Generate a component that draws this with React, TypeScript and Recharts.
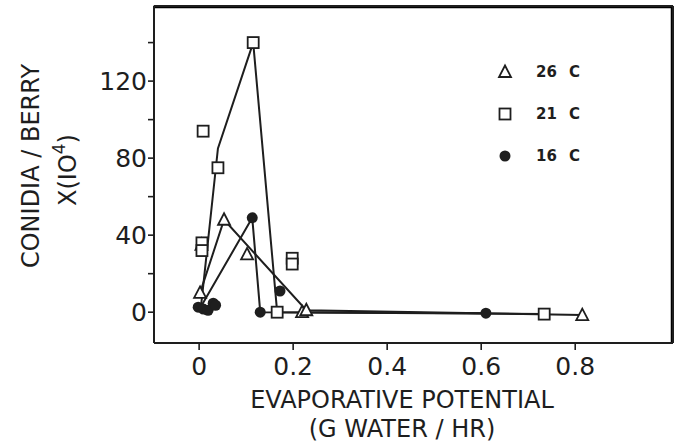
import React from 'react';
import {
  ScatterChart,
  Scatter,
  XAxis,
  YAxis,
  ReferenceLine,
  Customized,
} from 'recharts';

const INK = '#1e1e1e';
const FONT = '"DejaVu Sans", sans-serif';

const seriesLabels = ['26 C', '21 C', '16 C'];
const xTicks = [0, 0.2, 0.4, 0.6, 0.8];
const yTicks = [0, 20, 40, 60, 80, 100, 120, 140];
const xDomain = [-0.096, 1.008];
const yDomain = [-16, 159];

// 26 C - open triangles
const t26X = [0.002, 0.005, 0.053, 0.102, 0.219, 0.228, 0.815];
const t26Y = [10, 35, 48, 30, 0, 1, -1.5];
const t26LineX = [0.002, 0.053, 0.228, 0.815];
const t26LineY = [10, 48, 1, -1.5];

// 21 C - open squares
const t21X = [0.006, 0.006, 0.0085, 0.04, 0.115, 0.166, 0.198, 0.198, 0.734];
const t21Y = [36, 32, 94, 75, 140, 0, 28, 25, -1];
const t21LineX = [0.004, 0.04, 0.115, 0.166, 0.734];
const t21LineY = [3, 85, 140, 0, -1];

// 16 C - filled circles
const t16X = [-0.002, 0.009, 0.019, 0.03, 0.035, 0.113, 0.13, 0.172, 0.61];
const t16Y = [2.6, 1.6, 1, 4.7, 3.6, 49, 0, 11, -0.5];
const t16LineX = [0.004, 0.113, 0.13, 0.61];
const t16LineY = [3, 49, 0, -0.5];

const zip = (xs: number[], ys: number[]) => xs.map((x, i) => ({ x, y: ys[i] }));

const Triangle = ({ cx, cy }: any) => (
  <path
    d={`M${cx},${cy - 6.5} L${cx + 6},${cy + 5} L${cx - 6},${cy + 5} Z`}
    fill="#fff"
    stroke={INK}
    strokeWidth={1.8}
  />
);
const Square = ({ cx, cy }: any) => (
  <rect x={cx - 5.5} y={cy - 5.5} width={11} height={11} fill="#fff" stroke={INK} strokeWidth={1.8} />
);
const Dot = ({ cx, cy }: any) => <circle cx={cx} cy={cy} r={5.5} fill={INK} />;
const NoShape = () => <g />;

const markers = [Triangle, Square, Dot];

// legend and axis titles drawn straight into the chart svg
function Overlay() {
  return (
    <g fontFamily={FONT} fill={INK}>
      <path d="M153,7 L672,7 L672,343" fill="none" stroke="#000" strokeWidth={2.5} />
      {seriesLabels.map((label, i) => {
        const y = 72 + i * 42;
        const M = markers[i];
        const [num, unit] = label.split(' ');
        return (
          <g key={label}>
            <M cx={505} cy={y} />
            <text x={536} y={y + 5} fontWeight="bold" fontSize={15}>
              {num}
            </text>
            <text x={569} y={y + 5} fontWeight="bold" fontSize={15}>
              {unit}
            </text>
          </g>
        );
      })}
      <g fontSize={24}>
        <text x={31} y={166} textAnchor="middle" dominantBaseline="central" transform="rotate(-90 31 166)">
          CONIDIA / BERRY
        </text>
        <text x={68} y={170} textAnchor="middle" dominantBaseline="central" transform="rotate(-90 68 170)">
          X(IO<tspan dy={-9} fontSize={17}>4</tspan>
          <tspan dy={9}>)</tspan>
        </text>
      </g>
      <g fontSize={24}>
        <text x={402} y={400} textAnchor="middle" dominantBaseline="central">
          EVAPORATIVE POTENTIAL
        </text>
        <text x={402} y={429} textAnchor="middle" dominantBaseline="central">
          (G WATER / HR)
        </text>
      </g>
    </g>
  );
}

export default function App() {
  const tick = { fill: INK, fontSize: 25, fontFamily: FONT };
  const frame = { stroke: INK, strokeWidth: 2 };
  return (
    <div style={{ position: 'absolute', left: 0, top: 0, background: '#fff' }}>
      <ScatterChart width={684} height={443} margin={{ top: 6, right: 11, bottom: 0, left: 0 }}>
        <XAxis
          type="number"
          dataKey="x"
          domain={xDomain}
          ticks={xTicks}
          tickFormatter={(v: number) => (v === 0 ? '0' : v.toFixed(1))}
          height={100}
          tick={tick}
          tickSize={7}
          tickMargin={7}
          tickLine={{ stroke: INK, strokeWidth: 1.6 }}
          axisLine={frame}
          allowDataOverflow
        />
        <YAxis
          type="number"
          dataKey="y"
          domain={yDomain}
          ticks={yTicks}
          tickFormatter={(v: number) => (v % 40 === 0 ? String(v) : '')}
          width={154}
          tick={tick}
          tickSize={6}
          tickMargin={1}
          tickLine={{ stroke: INK, strokeWidth: 1.6 }}
          axisLine={frame}
          allowDataOverflow
        />
        <ReferenceLine x={xDomain[1]} stroke={INK} strokeWidth={2} ifOverflow="visible" />
        <ReferenceLine y={yDomain[1]} stroke={INK} strokeWidth={2} ifOverflow="visible" />
        <Scatter data={zip(t26LineX, t26LineY)} line={{ stroke: INK, strokeWidth: 2 }} shape={NoShape} isAnimationActive={false} />
        <Scatter data={zip(t21LineX, t21LineY)} line={{ stroke: INK, strokeWidth: 2 }} shape={NoShape} isAnimationActive={false} />
        <Scatter data={zip(t16LineX, t16LineY)} line={{ stroke: INK, strokeWidth: 2 }} shape={NoShape} isAnimationActive={false} />
        <Scatter name="26 C" data={zip(t26X, t26Y)} shape={Triangle} isAnimationActive={false} />
        <Scatter name="21 C" data={zip(t21X, t21Y)} shape={Square} isAnimationActive={false} />
        <Scatter name="16 C" data={zip(t16X, t16Y)} shape={Dot} isAnimationActive={false} />
        <Customized component={Overlay} />
      </ScatterChart>
    </div>
  );
}
